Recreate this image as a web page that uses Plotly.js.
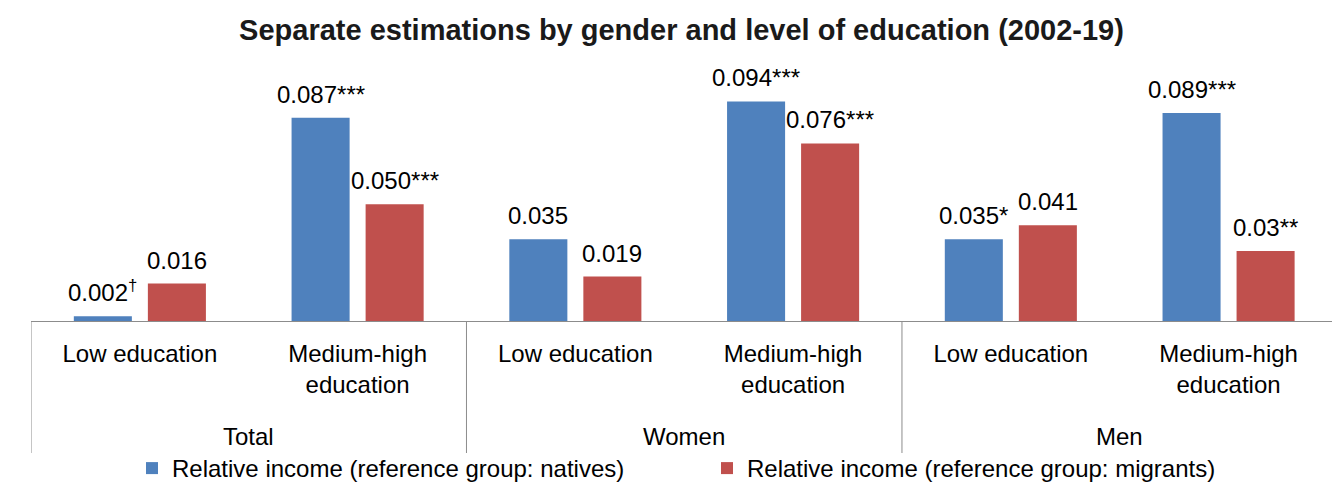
<!DOCTYPE html>
<html>
<head>
<meta charset="utf-8">
<script src="https://cdn.plot.ly/plotly-3.0.1.min.js"></script>
<style>
html,body{margin:0;padding:0;background:#fff;overflow:hidden;}
#chart{width:1332px;height:484px;}
</style>
</head>
<body>
<div id="chart"></div>
<script>
// ---- data ----
var categories = ['Low education', 'Medium-high<br>education', 'Low education', 'Medium-high<br>education', 'Low education', 'Medium-high<br>education'];
var groups = ['Total', 'Women', 'Men'];
var nativesValues = [0.002, 0.087, 0.035, 0.094, 0.035, 0.089];
var migrantsValues = [0.016, 0.050, 0.019, 0.076, 0.041, 0.030];
var nativesLabels = ['0.002<sup>†</sup>', '0.087***', '0.035', '0.094***', '0.035*', '0.089***'];
var migrantsLabels = ['0.016', '0.050***', '0.019', '0.076***', '0.041', '0.03**'];
var seriesNames = ['Relative income (reference group: natives)', 'Relative income (reference group: migrants)'];

var FONT = 'Liberation Sans, Arial, Helvetica, sans-serif';
var BLUE = '#4F81BD', RED = '#C0504D', GRAY = '#8C8C8C';
var idx = categories.map(function(_, i){ return i; });

var M = {l: 31, r: 0, t: 64, b: 163, autoexpand: false};
var plotH = 484 - M.t - M.b;

var traces = [
  {type: 'bar', x: idx, y: nativesValues, name: seriesNames[0], marker: {color: BLUE}, hoverinfo: 'skip'},
  {type: 'bar', x: idx, y: migrantsValues, name: seriesNames[1], marker: {color: RED}, hoverinfo: 'skip'}
];

var annotations = [];
var off = 0.17;
idx.forEach(function(i){
  annotations.push({x: i - off, y: nativesValues[i], xref: 'x', yref: 'y', text: nativesLabels[i],
    showarrow: false, yanchor: 'bottom', yshift: 8, font: {family: FONT, size: 24, color: '#000'}});
  annotations.push({x: i + off, y: migrantsValues[i], xref: 'x', yref: 'y', text: migrantsLabels[i],
    showarrow: false, yanchor: 'bottom', yshift: 8, font: {family: FONT, size: 24, color: '#000'}});
});
groups.forEach(function(g, k){
  annotations.push({x: 2*k + 0.5, y: -(436 - 321)/plotH, xref: 'x', yref: 'paper', text: g,
    showarrow: false, yanchor: 'middle', font: {family: FONT, size: 24, color: '#000'}});
});

var shapes = groups.map(function(g, k){
  return {type: 'line', xref: 'x', yref: 'paper', x0: 2*k - 0.5, x1: 2*k - 0.5, y0: 0, y1: -(453 - 321)/plotH,
    line: {color: GRAY, width: 1}};
});

var layout = {
  width: 1332, height: 484,
  margin: M,
  paper_bgcolor: '#fff', plot_bgcolor: '#fff',
  title: {text: 'Separate estimations by gender and level of education (2002-19)',
    font: {family: FONT, size: 29, color: '#1a1a1a', weight: 'bold'},
    x: 0.5, xref: 'paper', xanchor: 'center', y: 1 - 30/484, yref: 'container', yanchor: 'middle'},
  barmode: 'group', bargap: 0.32, bargroupgap: 0.216,
  xaxis: {range: [-0.5, 5.475], tickvals: idx, ticktext: categories, ticks: '', showgrid: false, zeroline: false,
    automargin: false, ticklabelstandoff: 11,
    showline: true, linecolor: GRAY, linewidth: 1, tickfont: {family: FONT, size: 24, color: '#000'}, fixedrange: true},
  yaxis: {range: [0, 0.11], showgrid: false, zeroline: false, showticklabels: false, showline: false, fixedrange: true, automargin: false},
  showlegend: true,
  legend: {orientation: 'h', x: (132 - M.l)/1301, xanchor: 'left', y: -(446 - 321)/plotH, yanchor: 'top',
    entrywidth: 530, entrywidthmode: 'pixels', font: {family: FONT, size: 24, color: '#000'}, bgcolor: 'rgba(0,0,0,0)'},
  annotations: annotations,
  shapes: shapes
};

Plotly.newPlot('chart', traces, layout, {displayModeBar: false, staticPlot: true});
</script>
</body>
</html>
